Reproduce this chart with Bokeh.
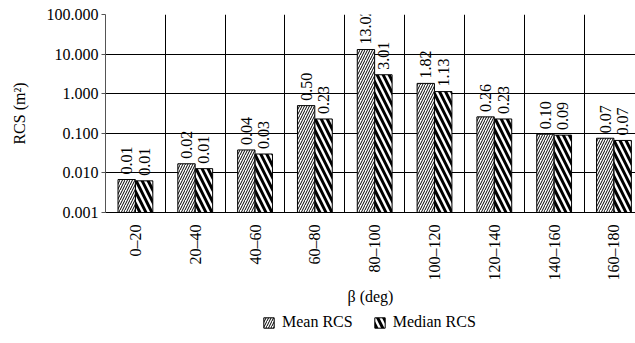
import numpy as np
from bokeh.plotting import figure
from bokeh.layouts import column
from bokeh.core.properties import value
from bokeh.models import (ColumnDataSource, FixedTicker, NumeralTickFormatter,
                          LabelSet, Legend, LegendItem, Range1d)
from bokeh.embed import file_html
from bokeh.resources import INLINE

# ---- data ----
categories = ["0–20", "20–40", "40–60", "60–80", "80–100",
              "100–120", "120–140", "140–160", "160–180"]
mean_rcs = [0.0068, 0.017, 0.038, 0.50, 13.02, 1.82, 0.26, 0.095, 0.075]
median_rcs = [0.0063, 0.0128, 0.030, 0.23, 3.01, 1.13, 0.23, 0.09, 0.066]
mean_labels = ["0.01", "0.02", "0.04", "0.50", "13.02", "1.82", "0.26", "0.10", "0.07"]
median_labels = ["0.01", "0.01", "0.03", "0.23", "3.01", "1.13", "0.23", "0.09", "0.07"]
y_ticks = [0.001, 0.01, 0.1, 1, 10, 100]
series_names = ["Mean RCS", "Median RCS"]

FONT = "Liberation Serif"
FS = "16px"

n = len(categories)
centers = [i + 0.5 for i in range(n)]
off = 0.146
bw = 0.29

src_mean = ColumnDataSource(dict(x=[c - off for c in centers], top=mean_rcs,
                                 bottom=[y_ticks[0]] * n, lab=mean_labels))
src_med = ColumnDataSource(dict(x=[c + off for c in centers], top=median_rcs,
                                bottom=[y_ticks[0]] * n, lab=median_labels))

STYLE_MEAN = dict(fill_color="white", line_color="black", line_width=1,
                  hatch_pattern="/", hatch_scale=5, hatch_weight=1, hatch_color="black")
STYLE_MED = dict(fill_color="white", line_color="black", line_width=1,
                 hatch_pattern="\\", hatch_scale=12, hatch_weight=3, hatch_color="black")

p = figure(width=635, height=310,
           x_range=Range1d(0, 8.86), y_range=Range1d(y_ticks[0], y_ticks[-1]),
           y_axis_type="log", output_backend="svg", toolbar_location=None,
           min_border_left=105, min_border_right=0, min_border_top=14,
           min_border_bottom=98)
p.outline_line_color = None
p.background_fill_color = "white"
p.border_fill_color = "white"

r1 = p.vbar(x="x", top="top", bottom="bottom", width=bw, source=src_mean, **STYLE_MEAN)
r2 = p.vbar(x="x", top="top", bottom="bottom", width=bw, source=src_med, **STYLE_MED)

for src in (src_mean, src_med):
    p.add_layout(LabelSet(x="x", y="top", text="lab", source=src, angle=np.pi / 2,
                          text_align="left", text_baseline="middle", y_offset=5,
                          text_font=value(FONT), text_font_size=value(FS),
                          text_color="black"))

# grids
p.xgrid.ticker = FixedTicker(ticks=list(range(0, n + 1)))
p.xgrid.grid_line_color = "black"
p.xgrid.grid_line_width = 1
p.ygrid.ticker = FixedTicker(ticks=y_ticks)
p.ygrid.grid_line_color = "black"
p.ygrid.grid_line_width = 1
p.ygrid.minor_grid_line_color = None

# y axis
p.yaxis.ticker = FixedTicker(ticks=y_ticks, minor_ticks=[])
p.yaxis.formatter = NumeralTickFormatter(format="0.000")
p.yaxis.major_label_text_font = FONT
p.yaxis.major_label_text_font_size = FS
p.yaxis.major_label_text_color = "black"
p.yaxis.major_tick_out = 4
p.yaxis.major_tick_in = 0
p.yaxis.minor_tick_out = 0
p.yaxis.minor_tick_in = 0
p.yaxis.major_label_standoff = 3
p.yaxis.axis_line_color = "#555555"
p.yaxis.major_tick_line_color = "#555555"
p.yaxis.axis_label = "RCS (m²)"
p.yaxis.axis_label_text_font = FONT
p.yaxis.axis_label_text_font_size = FS
p.yaxis.axis_label_text_font_style = "normal"
p.yaxis.axis_label_text_color = "black"
p.yaxis.axis_label_standoff = 16

# x axis
p.xaxis.ticker = FixedTicker(ticks=centers, minor_ticks=[])
p.xaxis.major_label_overrides = {c: lab for c, lab in zip(centers, categories)}
p.xaxis.major_label_orientation = np.pi / 2
p.xaxis.major_label_text_font = FONT
p.xaxis.major_label_text_font_size = FS
p.xaxis.major_label_text_color = "black"
p.xaxis.major_tick_line_color = None
p.xaxis.minor_tick_line_color = None
p.xaxis.major_label_standoff = 6
p.xaxis.axis_line_color = "black"
p.xaxis.axis_label = "β (deg)"
p.xaxis.axis_label_text_font = FONT
p.xaxis.axis_label_text_font_size = FS
p.xaxis.axis_label_text_font_style = "normal"
p.xaxis.axis_label_text_color = "black"
p.xaxis.axis_label_standoff = 4

# ---- legend strip below the chart ----
lf = figure(width=635, height=30, x_range=Range1d(100, 101), y_range=Range1d(100, 101),
            x_axis_location=None, y_axis_location=None, output_backend="svg",
            toolbar_location=None, min_border=0)
lf.grid.visible = False
lf.outline_line_color = None
lf.background_fill_color = "white"
lf.border_fill_color = "white"
l1 = lf.vbar(x="x", top="top", bottom="bottom", width=bw, source=src_mean, **STYLE_MEAN)
l2 = lf.vbar(x="x", top="top", bottom="bottom", width=bw, source=src_med, **STYLE_MED)
legend = Legend(items=[LegendItem(label=series_names[0], renderers=[l1]),
                       LegendItem(label=series_names[1], renderers=[l2])],
                orientation="horizontal", location=(157, 8),
                border_line_color=None, background_fill_alpha=0,
                glyph_width=13, glyph_height=13, label_height=20,
                label_text_font=FONT, label_text_font_size=FS,
                label_text_color="black", label_text_baseline="middle",
                spacing=20, label_standoff=7, margin=0, padding=0)
lf.add_layout(legend)

layout = column(p, lf, spacing=0)
open("out.html", "w").write(file_html(layout, INLINE))
